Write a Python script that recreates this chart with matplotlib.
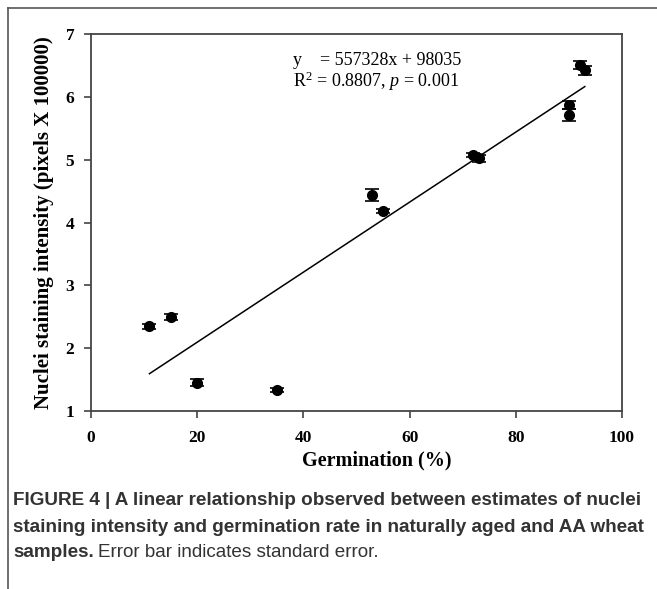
import matplotlib
matplotlib.use("Agg")
import matplotlib.pyplot as plt
from matplotlib.lines import Line2D

plt.rcParams['font.family'] = ['Liberation Serif', 'DejaVu Serif']
plt.rcParams['mathtext.fontset'] = 'custom'
plt.rcParams['mathtext.rm'] = 'Liberation Serif'
plt.rcParams['mathtext.it'] = 'Liberation Serif:italic'

# germination (%) vs nuclei staining intensity (pixels x 100000)
germination = [11, 15, 20, 35, 53, 55, 72, 73, 90, 90, 92, 93]
intensity = [2.35, 2.50, 1.45, 1.34, 4.44, 4.18, 5.07, 5.02, 5.87, 5.71, 6.51, 6.42]
std_err = [0.04, 0.05, 0.06, 0.03, 0.09, 0.03, 0.03, 0.05, 0.06, 0.10, 0.06, 0.07]

slope = 557328
intercept = 98035
fit_x = [11, 93]

fig = plt.figure(figsize=(6.57, 5.89), dpi=100)
ax = fig.add_axes([91/657, 1 - 411/589, 531/657, 377/589])

ax.errorbar(germination, intensity, yerr=std_err, fmt='o', color='black',
            markersize=7, capsize=5, elinewidth=1.2, capthick=1.2, zorder=3)
fit_y = [(slope * x / 100 + intercept) / 100000 for x in fit_x]
ax.plot(fit_x, fit_y, color='black', linewidth=1.1)

ax.set_xlim(0, 100)
ax.set_ylim(1, 7)
ax.set_xticks([0, 20, 40, 60, 80, 100])
ax.set_yticks([1, 2, 3, 4, 5, 6, 7])
ax.tick_params(direction='out', length=5, width=1.1, color='#333333',
               labelsize=12.5)
ax.tick_params(axis='x', pad=9)
ax.tick_params(axis='y', pad=7)
for lab in ax.get_xticklabels() + ax.get_yticklabels():
    lab.set_fontweight('bold')
for s in ax.spines.values():
    s.set_color('#444444')
    s.set_linewidth(1.3)

ax.set_xlabel('Germination (%)', fontsize=14.5, fontweight='bold')
ax.xaxis.set_label_coords((377 - 91) / 531, -0.105)
ax.set_ylabel('Nuclei staining intensity (pixels X 100000)', fontsize=15,
              fontweight='bold')
ax.yaxis.set_label_coords(-0.07, 0.5)

ax.text(38, 6.72, 'y    = 557328x + 98035', fontsize=13, va='top')
ax.text(38, 6.44, 'R$^{2}$ = 0.8807, $p$ = 0.001', fontsize=13, va='top')

# frame around the figure panel (top and left)
fig.add_artist(Line2D([8/657, 1], [1 - 8/589, 1 - 8/589], color='#555555', linewidth=1.2))
fig.add_artist(Line2D([8/657, 8/657], [1 - 8/589, 0], color='#555555', linewidth=1.2))

cap_font = ['Liberation Sans', 'DejaVu Sans']
cap_size = 13.6
fig.text(13/657, 1 - 505/589, 'FIGURE 4 | A linear relationship observed between estimates of nuclei',
         fontsize=cap_size, fontweight='bold', color='#333333', family=cap_font, va='baseline')
fig.text(13/657, 1 - 532/589, 'staining intensity and germination rate in naturally aged and AA wheat',
         fontsize=cap_size, fontweight='bold', color='#333333', family=cap_font, va='baseline')
t = fig.text(13/657, 1 - 557/589, 'samples.', fontsize=cap_size, fontweight='bold',
             color='#333333', family=cap_font, va='baseline')
fig.canvas.draw()
bb = t.get_window_extent()
fig.text((bb.x1 + 4) / 657, 1 - 557/589, 'Error bar indicates standard error.',
         fontsize=cap_size, color='#333333', family=cap_font, va='baseline')

fig.savefig('out.png', dpi=100)
